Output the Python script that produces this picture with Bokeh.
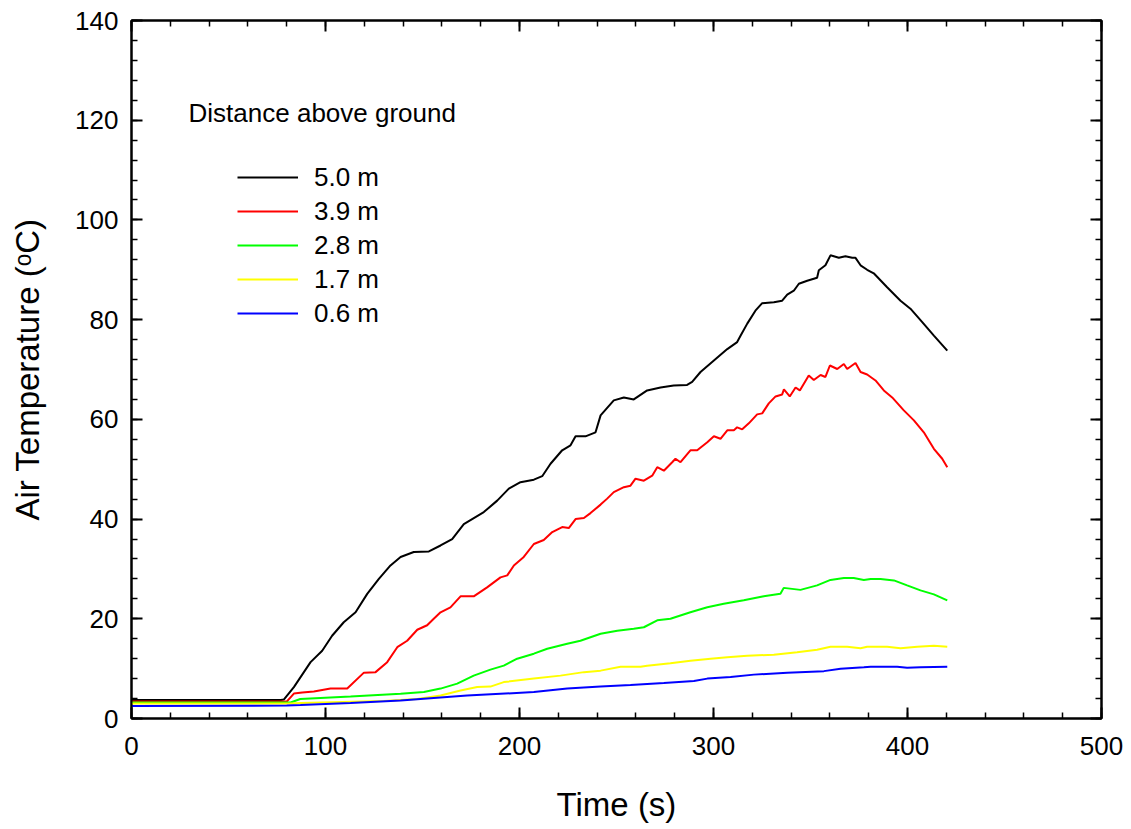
from bokeh.plotting import figure
from bokeh.models import (Range1d, SingleIntervalTicker, LinearAxis, Legend,
                          LegendItem, Label, CustomLabelingPolicy)
from bokeh.embed import file_html
from bokeh.resources import INLINE

# ---------------- data ----------------
series_labels = ["5.0 m", "3.9 m", "2.8 m", "1.7 m", "0.6 m"]
series_colors = ["#000000", "#ff0000", "#00ff00", "#ffff00", "#0000ff"]

t_50 = [0, 77, 78.5, 83.7, 92.3, 98.3, 103.4, 109.4, 115.5, 121.5,
        127.5, 133.5, 138.7, 145.5, 153.3, 159.3, 165.3, 171.3, 181.6, 188.5,
        194.5, 200.5, 207.4, 211.7, 216, 222, 226.3, 228.9, 234, 239.2,
        241.8, 248.6, 253.8, 258.9, 265.8, 272.7, 279.5, 286.4, 289, 293.3,
        300.2, 307.1, 312.2, 314, 317.4, 321.6, 325.1, 331.1, 335.4, 338,
        341.4, 344, 348.3, 353.4, 354.3, 357.7, 360.3, 364.6, 368, 371.5,
        373.2, 375.8, 379.2, 382.6, 389.5, 396.4, 401.5, 407.6, 413.6, 420.5]
T_50 = [3.7, 3.7, 3.8, 6.3, 11.3, 13.6, 16.6, 19.3, 21.3, 25.0,
        28.0, 30.7, 32.4, 33.4, 33.5, 34.7, 36.0, 39.0, 41.4, 43.7,
        46.1, 47.4, 47.9, 48.6, 51.1, 53.8, 54.8, 56.6, 56.6, 57.4,
        60.8, 63.8, 64.4, 64.0, 65.8, 66.4, 66.8, 66.9, 67.5, 69.5,
        71.8, 74.1, 75.5, 76.8, 79.2, 81.8, 83.3, 83.5, 83.8, 85.0,
        85.8, 87.2, 87.8, 88.4, 89.9, 90.9, 92.9, 92.4, 92.7, 92.4,
        92.4, 90.9, 90.0, 89.3, 86.5, 83.8, 82.2, 79.5, 76.8, 73.8]

t_39 = [0, 80, 83.7, 88, 94, 102.6, 111.2, 119.8, 125.8, 131.8,
        137, 142.1, 147.3, 152.4, 155.8, 159.3, 164.4, 169.6, 176.4, 183.3,
        190.2, 193.7, 197.1, 202.2, 207.4, 212.5, 216.9, 222, 225.4, 228.9,
        233.2, 236.6, 241.8, 245.2, 248.6, 253.8, 257.2, 259.8, 264.1, 268.4,
        271, 274.4, 278.7, 280.4, 283, 288.1, 291.6, 296.8, 300.2, 303.6,
        307.1, 310.5, 312.2, 314.8, 318.2, 322.5, 325.1, 328.5, 332, 335.4,
        336.3, 339.3, 342.3, 344.5, 349.1, 351.7, 355.2, 357.7, 360, 363.8,
        367.2, 368.9, 373.2, 375.8, 379.2, 383.5, 387.8, 392.1, 398.1, 403.3,
        408.4, 413.6, 417.9, 420.5]
T_39 = [3.4, 3.4, 5.0, 5.2, 5.4, 6.0, 6.0, 9.2, 9.3, 11.3,
        14.3, 15.6, 17.8, 18.7, 20.0, 21.3, 22.3, 24.5, 24.5, 26.3,
        28.3, 28.7, 30.7, 32.4, 35.0, 35.8, 37.4, 38.4, 38.2, 40.0,
        40.2, 41.2, 42.9, 44.1, 45.4, 46.4, 46.7, 48.1, 47.7, 48.7,
        50.4, 49.7, 51.4, 52.1, 51.4, 53.8, 53.8, 55.4, 56.6, 56.1,
        57.8, 57.8, 58.4, 58.0, 59.2, 61.0, 61.2, 63.2, 64.6, 65.0,
        66.0, 64.6, 66.4, 65.8, 68.8, 67.9, 68.9, 68.5, 70.8, 70.1,
        71.1, 70.1, 71.3, 69.5, 69.0, 67.8, 65.8, 64.4, 61.8, 59.8,
        57.4, 54.1, 52.1, 50.4]

t_28 = [0, 82, 87, 107.7, 112.9, 138.7, 150.7, 159.3, 167.9, 176.4,
        185, 191.9, 198.8, 207.4, 214.3, 224.6, 231.4, 241.8, 250.4, 258.9,
        264.1, 271, 277.8, 288.1, 296.8, 305.3, 315.6, 325.9, 334.5, 336.2,
        344.8, 353.4, 360.3, 367.2, 372.3, 377.5, 381, 386.1, 393, 399.8,
        406.7, 413.6, 420.5]
T_28 = [3.2, 3.2, 3.9, 4.3, 4.4, 4.95, 5.3, 6.0, 7.0, 8.6,
        9.8, 10.6, 12.0, 13.0, 14.0, 15.0, 15.6, 17.0, 17.6, 18.0,
        18.3, 19.7, 20.0, 21.3, 22.3, 23.0, 23.7, 24.5, 25.0, 26.2,
        25.8, 26.7, 27.8, 28.2, 28.2, 27.8, 28.0, 28.0, 27.7, 26.7,
        25.7, 24.9, 23.7]

t_17 = [0, 82, 87.1, 130.1, 147.3, 159.3, 169.6, 178.2, 185, 191.9,
        207.4, 221.1, 233.2, 241.8, 252.1, 262.4, 265.8, 277.8, 288.1, 298.5,
        307.1, 317.4, 331.1, 343.1, 353.4, 360.3, 368.9, 375.8, 379.2, 389.5,
        396.4, 405, 413.6, 420.5]
T_17 = [3.0, 3.0, 3.1, 3.5, 3.9, 4.6, 5.6, 6.3, 6.4, 7.3,
        8.0, 8.6, 9.3, 9.6, 10.4, 10.4, 10.6, 11.1, 11.6, 12.0,
        12.3, 12.6, 12.8, 13.3, 13.8, 14.4, 14.4, 14.1, 14.4, 14.4,
        14.1, 14.4, 14.6, 14.4]

t_06 = [0, 80, 87.1, 112.9, 138.7, 155.8, 173, 190.2, 207.4, 224.6,
        241.8, 257.2, 274.4, 289.9, 296.8, 308.8, 320.8, 338, 356.9, 365.5,
        377.5, 381, 394.7, 399.8, 406.7, 420.5]
T_06 = [2.5, 2.6, 2.7, 3.1, 3.6, 4.1, 4.6, 4.95, 5.3, 6.0,
        6.4, 6.7, 7.1, 7.5, 8.0, 8.3, 8.8, 9.2, 9.5, 10.0,
        10.3, 10.4, 10.4, 10.2, 10.3, 10.4]

x_label = "Time (s)"
y_label = "Air Temperature (\u1d52C)"
legend_title = "Distance above ground"

FONT = "Liberation Sans"

# ---------------- figure ----------------
p = figure(width=1131, height=829, x_range=Range1d(0, 500), y_range=Range1d(0, 140),
           output_backend="svg", toolbar_location=None,
           min_border_left=131, min_border_right=30, min_border_top=20,
           min_border_bottom=111)
p.background_fill_color = "white"
p.border_fill_color = "white"
p.xgrid.visible = False
p.ygrid.visible = False
p.outline_line_color = "black"
p.outline_line_width = 2

xticker = SingleIntervalTicker(interval=100, num_minor_ticks=5)
yticker = SingleIntervalTicker(interval=20, num_minor_ticks=5)

no_labels = CustomLabelingPolicy(code="for (const i of indices) { indices.unset(i) }\nreturn indices")


def style_axis(ax, show_labels=True):
    ax.axis_line_width = 2
    ax.axis_line_color = "black"
    ax.major_tick_in = 11
    ax.major_tick_out = 0
    ax.minor_tick_in = 6
    ax.minor_tick_out = 0
    ax.major_tick_line_width = 2
    ax.minor_tick_line_width = 1.5
    ax.major_tick_line_color = "black"
    ax.minor_tick_line_color = "black"
    ax.major_label_text_font = FONT
    ax.major_label_text_color = "black"
    if show_labels:
        ax.major_label_text_font_size = "26px"
    else:
        # hidden mirror axis: labels are filtered out, so nothing is drawn
        ax.major_label_text_font_size = "0px"
        ax.major_label_policy = no_labels
        ax.major_label_standoff = 0


p.xaxis.ticker = xticker
p.yaxis.ticker = yticker
style_axis(p.xaxis[0])
style_axis(p.yaxis[0])
p.xaxis.major_label_standoff = 18
p.yaxis.major_label_standoff = 13
p.xaxis.axis_label = x_label
p.yaxis.axis_label = y_label
for ax in (p.xaxis[0], p.yaxis[0]):
    ax.axis_label_text_font = FONT
    ax.axis_label_text_font_size = "33px"
    ax.axis_label_text_font_style = "normal"
    ax.axis_label_text_color = "black"
p.xaxis.axis_label_standoff = 28
p.yaxis.axis_label_standoff = 26

top_axis = LinearAxis(ticker=xticker)
style_axis(top_axis, show_labels=False)
p.add_layout(top_axis, "above")
right_axis = LinearAxis(ticker=yticker)
style_axis(right_axis, show_labels=False)
p.add_layout(right_axis, "right")

# ---------------- curves ----------------
all_t = [t_50, t_39, t_28, t_17, t_06]
all_T = [T_50, T_39, T_28, T_17, T_06]
renderers = []
for tt, TT, col in zip(all_t, all_T, series_colors):
    r = p.line(tt, TT, line_color=col, line_width=2)
    renderers.append(r)

items = [LegendItem(label=lab, renderers=[r]) for lab, r in zip(series_labels, renderers)]
legend = Legend(items=items, location=(106, 388), padding=0, margin=0, spacing=0,
                glyph_width=61, glyph_height=34, label_height=34, label_standoff=16,
                label_text_font=FONT, label_text_font_size="26px",
                label_text_color="black",
                border_line_alpha=0, background_fill_alpha=0)
p.add_layout(legend, "center")

title_lbl = Label(x=29.4, y=121.5, text=legend_title, text_font=FONT,
                  text_font_size="26px", text_baseline="middle", text_align="left",
                  text_color="black")
p.add_layout(title_lbl)

open("out.html", "w").write(file_html(p, INLINE))
